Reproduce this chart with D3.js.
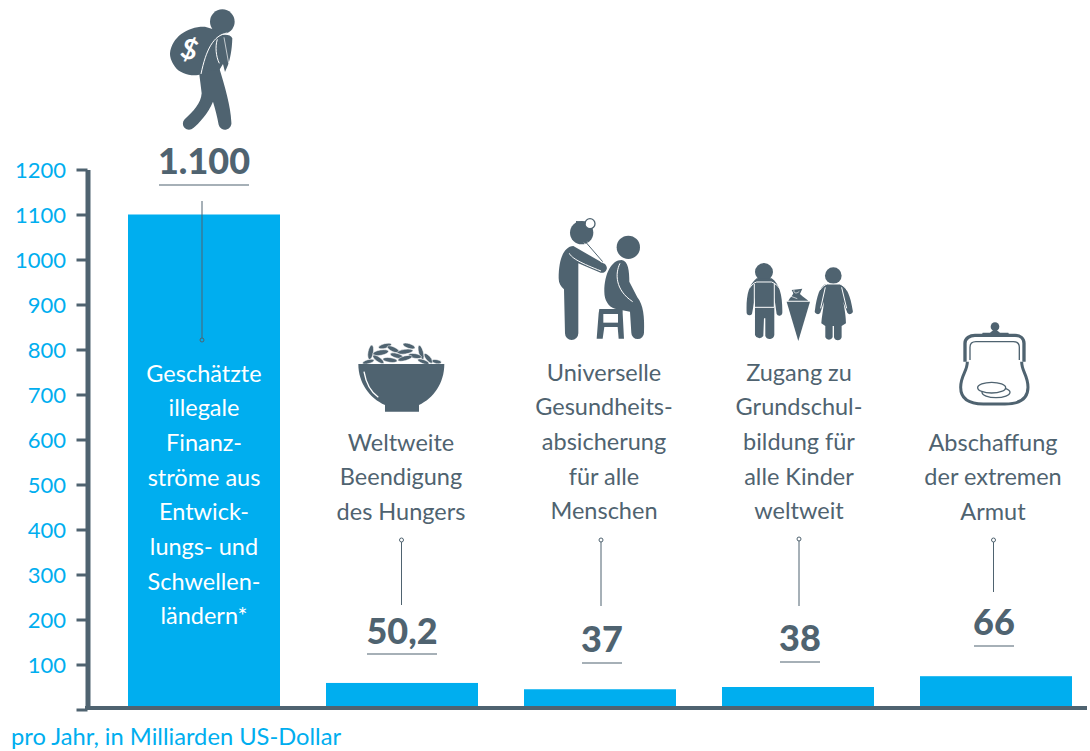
<!DOCTYPE html>
<html>
<head>
<meta charset="utf-8">
<script src="https://d3js.org/d3.v7.min.js"></script>
<style>
  html, body { margin: 0; padding: 0; background: #fff; }
  svg { display: block; font-family: Lato, sans-serif; }
</style>
</head>
<body>
<div id="chart"></div>
<script>
// values (bar heights do not follow the printed labels in the original)
const categories = ["Finanzstroeme", "Hunger", "Gesundheit", "Grundschule", "Armut"];
const barValues = [1100, 59, 45, 50, 74];
const valueLabels = ["1.100", "50,2", "37", "38", "66"];
const tickValues = [0, 100, 200, 300, 400, 500, 600, 700, 800, 900, 1000, 1100, 1200];
const categoryLines = [
    ["Geschätzte", "illegale", "Finanz-", "ströme aus", "Entwick-", "lungs- und", "Schwellen-", "ländern*"],
    ["Weltweite", "Beendigung", "des Hungers"],
    ["Universelle", "Gesundheits-", "absicherung", "für alle", "Menschen"],
    ["Zugang zu", "Grundschul-", "bildung für", "alle Kinder", "weltweit"],
    ["Abschaffung", "der extremen", "Armut"]
];
const unitLabel = "pro Jahr, in Milliarden US-Dollar";

const slate = "#4f6370", blue = "#00aeef";

barChart();

function barChart() {

    let svg = d3.select("#chart").append("svg")
        .attr("width", 1090)
        .attr("height", 751);

    // set the x / y scales
    let x = d3.scaleBand()
        .domain(categories)
        .range([128, 1072])
        .paddingInner(46 / 198)
        .paddingOuter(0);
    let y = d3.scaleLinear()
        .domain([0, 1200])
        .range([709.5, 169.5]);

    // bars
    svg.selectAll(".bar")
        .data(categories)
        .enter()
        .append("rect")
        .attr("class", "bar")
        .attr("x", d => x(d))
        .attr("width", x.bandwidth())
        .attr("y", (d, i) => y(barValues[i]))
        .attr("height", (d, i) => y(0) - y(barValues[i]))
        .attr("fill", blue);

    // y axis
    let axis = svg.append("g")
        .attr("transform", "translate(87.5,0)")
        .call(d3.axisLeft(y)
            .tickValues(tickValues)
            .tickSize(11)
            .tickSizeOuter(0)
            .tickFormat(d => d === 0 ? "" : d));
    axis.select(".domain").attr("stroke", slate).attr("stroke-width", 5);
    axis.selectAll(".tick line").attr("stroke", slate).attr("stroke-width", 3);
    axis.selectAll(".tick text")
        .attr("x", -21.5)
        .attr("dy", "0.36em")
        .attr("fill", blue)
        .style("font-size", "22px")
        .style("font-family", "Lato, sans-serif");

    // x axis baseline
    svg.append("line")
        .attr("x1", 85).attr("x2", 1087)
        .attr("y1", y(0) - 1.5).attr("y2", y(0) - 1.5)
        .attr("stroke", slate).attr("stroke-width", 4);

    // per bar annotation layout
    let textCx = [204, 401, 604, 799, 993];
    let textTop = [381.5, 450.5, 380.5, 380.5, 450.5];
    let lineX = [202, 401.5, 601, 799, 993.5];
    let lineTop = [201, 540, 540, 539, 540];
    let lineBottom = [340, 605, 606, 606, 592];
    let dotY = [340, 540, 540, 539, 540];
    let labelBase = [174, 644, 652, 651, 635];
    let ruleY = [185, 654, 663, 662, 646];
    let ruleW = [90, 70, 40, 40, 40];
    let labelCx = [204, 402, 602, 800, 994];

    categories.forEach((c, i) => {
        let g = svg.append("g");
        g.selectAll("text")
            .data(categoryLines[i])
            .enter()
            .append("text")
            .attr("x", textCx[i])
            .attr("y", (d, j) => textTop[i] + j * 34.7)
            .attr("text-anchor", "middle")
            .attr("fill", i === 0 ? "#fff" : slate)
            .style("font-size", "23.5px")
            .text(d => d);

        g.append("line")
            .attr("x1", lineX[i]).attr("x2", lineX[i])
            .attr("y1", lineTop[i]).attr("y2", lineBottom[i])
            .attr("stroke", slate).attr("stroke-width", 1);
        g.append("circle")
            .attr("cx", lineX[i]).attr("cy", dotY[i]).attr("r", 2)
            .attr("fill", i === 0 ? blue : "#fff")
            .attr("stroke", slate).attr("stroke-width", 1);

        g.append("text")
            .attr("x", labelCx[i])
            .attr("y", labelBase[i])
            .attr("text-anchor", "middle")
            .attr("fill", slate)
            .style("font-size", "36px")
            .style("font-weight", 900)
            .text(valueLabels[i]);
        g.append("line")
            .attr("x1", labelCx[i] - ruleW[i] / 2).attr("x2", labelCx[i] + ruleW[i] / 2)
            .attr("y1", ruleY[i]).attr("y2", ruleY[i])
            .attr("stroke", slate).attr("stroke-width", 1.2);
    });

    // unit label
    svg.append("text")
        .attr("x", 11)
        .attr("y", 745)
        .attr("fill", blue)
        .style("font-size", "23.7px")
        .text(unitLabel);

    drawIcons(svg);
}

// icons are drawn in 3x crop coordinates, so every group is scaled by 1/3
function drawIcons(svg) {
    let icon = (ox, oy) => svg.append("g")
        .attr("transform", "translate(" + ox + "," + oy + ") scale(0.3333)")
        .attr("fill", slate);
    let path = (g, d) => g.append("path").attr("d", d);
    let white = (g, d, w) => g.append("path").attr("d", d)
        .attr("fill", "none").attr("stroke", "#fff").attr("stroke-width", w);

    // man with money bag
    let man = icon(130, 0);
    man.append("circle").attr("cx", 277).attr("cy", 65).attr("r", 37);
    path(man, "M207,215 L268,205 C285,260 302,320 304,365 A19,19 0 0 1 266,374 C262,350 255,325 249,305 C235,340 205,372 190,384 A18,18 0 0 1 164,358 C190,335 213,310 215,280 C213,260 210,240 207,215 Z");
    path(man, "M215,215 L235,125 C262,102 300,98 307,115 C306,150 300,180 294,195 L285,216 L279,192 L268,210 Z");
    path(man, "M120,160 C125,110 175,78 225,80 L290,100 C250,105 230,150 215,222 C190,232 150,222 135,200 C122,182 120,170 120,160 Z");
    white(man, "M292,99 C250,105 228,150 213,222", 3);
    white(man, "M262,118 C255,140 258,170 268,190", 3);
    white(man, "M282,112 L296,190", 2);
    man.append("text")
        .attr("x", 178).attr("y", 178)
        .attr("text-anchor", "middle")
        .attr("fill", "#fff")
        .attr("transform", "rotate(18 178 150)")
        .style("font-size", "84px").style("font-weight", 700)
        .text("$");

    // doctor and patient
    let doc = icon(540, 210);
    doc.append("circle").attr("cx", 125).attr("cy", 68).attr("r", 35);
    doc.append("circle").attr("cx", 150).attr("cy", 41).attr("r", 15)
        .attr("fill", "#fff").attr("stroke", slate).attr("stroke-width", 4);
    path(doc, "M108,33 L137,35 L137,42 L108,42 Z");
    path(doc, "M56,205 C56,150 70,110 100,108 L190,160 A13,13 0 0 1 182,188 L115,160 L115,370 A20,20 0 0 1 75,370 L72,238 C62,230 56,220 56,205 Z");
    white(doc, "M88,130 C95,145 125,160 183,183", 3);
    white(doc, "M132,98 L185,158 M142,95 L190,152", 2);
    doc.append("path").attr("d", "M136,95 L188,155").attr("fill", "none").attr("stroke", slate).attr("stroke-width", 3);
    doc.append("circle").attr("cx", 265).attr("cy", 112).attr("r", 35);
    path(doc, "M193,245 C193,190 215,150 245,150 C265,152 268,185 268,215 L292,262 C310,285 314,320 312,368 A19,19 0 0 1 274,368 L270,305 L225,296 C205,290 193,270 193,245 Z");
    white(doc, "M240,160 C225,190 225,240 278,275", 3);
    path(doc, "M178,297 L248,297 L248,310 L252,386 L236,386 L233,351 L193,351 L188,386 L170,386 L176,310 Z");
    doc.append("rect").attr("x", 190).attr("y", 312).attr("width", 44).attr("height", 26).attr("fill", "#fff");

    // boy, school cone and girl
    let kids = icon(540, 210);
    kids.append("circle").attr("cx", 672).attr("cy", 186).attr("r", 27);
    path(kids, "M620,310 C618,260 625,225 650,205 L695,205 C720,222 728,260 727,310 A9,9 0 0 1 710,312 L703,262 L703,375 A14,14 0 0 1 676,378 L676,325 L672,325 L670,378 A14,14 0 0 1 645,375 L645,262 L636,312 A9,9 0 0 1 620,310 Z");
    white(kids, "M628,235 C635,225 642,218 650,216 L695,216 C705,220 714,228 722,238 M643,222 L643,292 L703,292 L703,222", 3);
    path(kids, "M740,275 L810,275 L775,393 Z");
    path(kids, "M745,272 C750,262 758,258 760,250 L755,240 L787,236 L780,252 C790,262 800,268 805,272 Z");
    white(kids, "M750,258 L772,266 M762,240 C760,250 770,252 778,244", 2);
    kids.append("circle").attr("cx", 880).attr("cy", 197).attr("r", 25);
    path(kids, "M825,300 C830,260 840,225 860,222 L900,222 C920,228 932,260 938,300 A9,9 0 0 1 922,308 L910,275 C915,300 918,325 918,340 L905,348 L905,382 A12,12 0 0 1 882,382 L882,348 L878,348 L878,382 A12,12 0 0 1 856,382 L856,348 L844,340 C845,320 850,300 852,275 L841,308 A9,9 0 0 1 825,300 Z");
    white(kids, "M840,240 C848,228 856,224 862,222 L900,222 C908,226 916,232 922,242 M856,232 L842,295 M905,232 L920,295", 3);

    // bowl of rice
    let bowl = icon(340, 320);
    let grains = [[92, 97, 8, 22, 100], [135, 78, 7, 20, -15], [122, 98, 8, 24, -10], [160, 88, 7, 20, 25], [207, 78, 7, 19, 18], [195, 95, 7, 24, -8], [243, 97, 7, 22, 75], [170, 107, 7, 20, 15], [225, 108, 7, 20, 10], [115, 118, 7, 20, 35], [150, 120, 7, 22, 8], [195, 115, 7, 22, -15], [265, 115, 7, 18, 50], [250, 125, 6, 18, 20], [85, 125, 6, 18, -15], [290, 125, 6, 14, 10]];
    grains.forEach(g => bowl.append("ellipse")
        .attr("cx", g[0]).attr("cy", g[1]).attr("rx", g[3]).attr("ry", g[2])
        .attr("stroke", "#fff").attr("stroke-width", 1.5)
        .attr("transform", "rotate(" + g[4] + " " + g[0] + " " + g[1] + ")"));
    path(bowl, "M55,132 L313,132 C313,190 280,235 237,255 L237,275 L135,275 L135,255 C90,235 55,190 55,132 Z");
    white(bowl, "M72,155 C78,190 95,218 115,232", 4);

    // purse with coins
    let purse = icon(940, 310);
    purse.append("circle").attr("cx", 165).attr("cy", 50).attr("r", 13);
    path(purse, "M125,76 L128,68 L150,68 L165,56 L180,68 L205,68 L208,76 Z");
    let outline = (d, w) => purse.append("path").attr("d", d)
        .attr("fill", "none").attr("stroke", slate).attr("stroke-width", w);
    outline("M75,155 L75,100 C75,85 90,76 105,76 L225,76 C240,76 252,85 252,100 L252,155", 10);
    outline("M90,150 L90,112 C90,100 96,95 108,95 L220,95 C232,95 238,100 238,112 L238,150", 4);
    outline("M82,155 C82,185 62,195 62,232 C62,268 90,282 130,282 L195,282 C235,282 264,268 264,232 C264,195 245,185 245,155", 9);
    purse.append("ellipse").attr("cx", 168).attr("cy", 247).attr("rx", 42).attr("ry", 16)
        .attr("fill", "#fff").attr("stroke", slate).attr("stroke-width", 4);
    purse.append("ellipse").attr("cx", 155).attr("cy", 233).attr("rx", 42).attr("ry", 16)
        .attr("fill", "#fff").attr("stroke", slate).attr("stroke-width", 4);
}
</script>
</body>
</html>
